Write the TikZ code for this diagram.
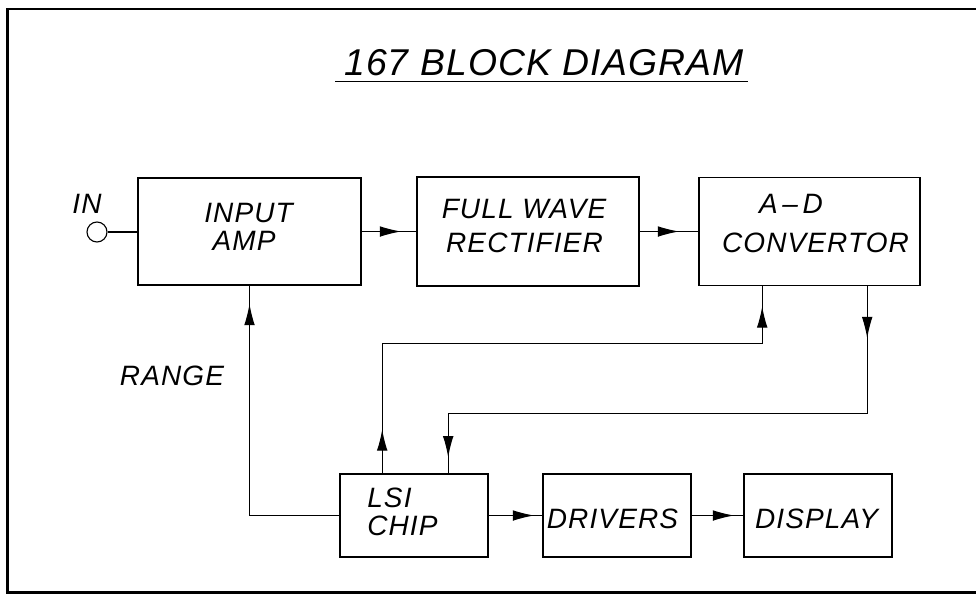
\documentclass[tikz,border=0pt]{standalone}
\usepackage{fontspec}
\setmainfont{Liberation Sans}[LetterSpace=4]
\usetikzlibrary{arrows.meta,decorations.markings,calc}
\tikzset{
  blk/.style={draw, line width=1.2pt, inner sep=0pt},
  lab/.style={font=\fontsize{21}{24}\selectfont\itshape, inner sep=0pt, anchor=base},
  conn/.style={line width=0.85pt},
  tipat/.style={postaction={decorate,decoration={markings,mark=at position #1 with {\arrow{Latex[length=16pt,width=8pt]}}}}},
  framestyle/.style={line width=1.7pt}
}
\begin{document}
\begin{tikzpicture}[x=0.75pt,y=-0.75pt]
\useasboundingbox (0,0) rectangle (976,594);
% frame
\draw[framestyle] (976,9) -- (7.5,9) -- (7.5,592.5) -- (976,592.5);
% title
\node[lab, font=\fontsize{28}{32}\selectfont\itshape\addfontfeature{LetterSpace=3}] (title) at (544,75) {167 BLOCK DIAGRAM};
\draw[line width=1.1pt] (335,81.5) -- (748,81.5);
% boxes
\node[blk, minimum width=167.25pt, minimum height=80.25pt] (iamp) at (249.5,231.5) {};
\node[blk, minimum width=166.5pt, minimum height=81.75pt] (fw) at (528,231.5) {};
\node[blk, minimum width=165.75pt, minimum height=81pt] (ad) at (809.5,231.5) {};
\node[blk, minimum width=111pt, minimum height=62pt] (lsi) at (414,515.5) {};
\node[blk, minimum width=111pt, minimum height=62pt] (drv) at (617,515.5) {};
\node[blk, minimum width=111pt, minimum height=62pt] (disp) at (818,515.5) {};
\node[draw, circle, line width=0.85pt, minimum size=15pt, inner sep=0pt] (inc) at (97,232) {};
% texts
\node[lab] (tinput) at (248.5,222) {INPUT};
\node[lab] (tamp) at (244,250) {AMP};
\node[lab] (tfull) at (524,218) {FULL WAVE};
\node[lab] (trect) at (524.5,252) {RECTIFIER};
\node[lab] (tad) at (791,213) {A\,–\,D};
\node[lab] (tconv) at (815.5,252) {CONVERTOR};
\node[lab, anchor=base west] (tlsi) at (367,507) {LSI};
\node[lab, anchor=base west] (tchip) at (367,535) {CHIP};
\node[lab] (tdrv) at (612.5,528) {DRIVERS};
\node[lab] (tdisp) at (816.5,528) {DISPLAY};
\node[lab] (tin) at (87,213) {IN};
\node[lab] (trange) at (172,385) {RANGE};
% connectors
\draw[conn] (inc.east) -- (iamp.west |- inc.east);
\draw[conn, tipat=-11.25pt] (iamp.east) -- (fw.west);
\draw[conn, tipat=-14.25pt] (fw.east) -- (ad.west);
\draw[conn, tipat=33pt, tipat=-15pt] ($(lsi.north west)+(43,0)$) |- ($(ad.south west)+(64,57)$) -- ($(ad.south west)+(64,0)$);
\draw[conn, tipat=39pt, tipat=-12pt] ($(ad.south west)+(169,0)$) |- ($(lsi.north west)+(109,-60)$) -- ($(lsi.north west)+(109,0)$);
\draw[conn, tipat=-13.5pt] (lsi.west) -| (iamp.south);
\draw[conn, tipat=-6pt] (lsi.east) -- (drv.west);
\draw[conn, tipat=-6.75pt] (drv.east) -- (disp.west);
\end{tikzpicture}
\end{document}
